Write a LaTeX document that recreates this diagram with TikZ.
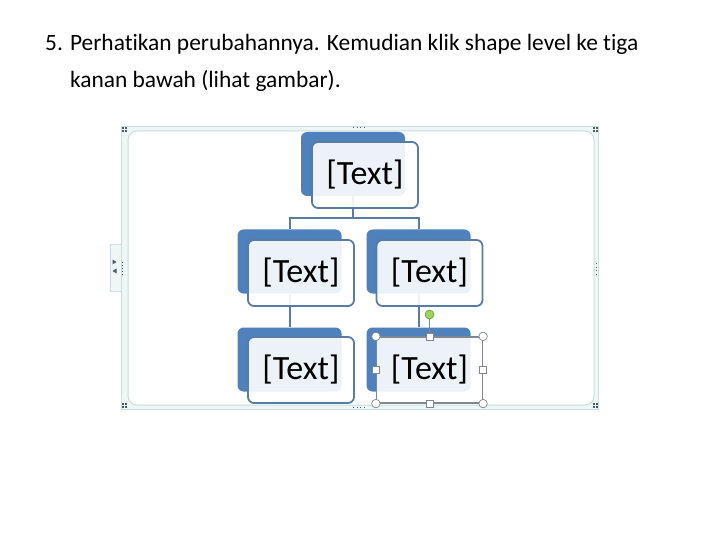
\documentclass[tikz,border=0pt]{standalone}
\usepackage{fontspec}
\setmainfont{Carlito}[Ligatures={NoCommon}, RawFeature={-liga}]
\definecolor{blueback}{HTML}{4F81BD}
\definecolor{frontline}{HTML}{5A7CA3}
\definecolor{connc}{HTML}{5A7CA3}
\definecolor{framec}{HTML}{C9DEDE}
\definecolor{framefill}{HTML}{EEF6F6}
\definecolor{dotc}{HTML}{4A5A66}
\definecolor{handc}{HTML}{7F8790}
\definecolor{rotfill}{HTML}{9BD55A}
\definecolor{rotline}{HTML}{5A9A2A}
\tikzset{
  backbox/.style={fill=blueback, rounded corners=6pt, minimum width=104pt, minimum height=64pt, inner sep=0pt},
  frontbox/.style={draw=frontline, line width=1.8pt, fill=white, fill opacity=0.9, text opacity=1, rounded corners=6pt, minimum width=106pt, minimum height=66pt, inner sep=0pt, font=\fontsize{34}{34}\selectfont},
  conn/.style={draw=connc, line width=2pt},
  hcirc/.style={circle, draw=handc, fill=white, line width=0.7pt, minimum size=8.5pt, inner sep=0pt},
  hsq/.style={rectangle, draw=handc, fill=white, line width=0.7pt, minimum size=7pt, inner sep=0pt},
  dotsq/.style={fill=dotc},
  title/.style={anchor=base west, inner sep=0pt, font=\fontsize{23.4}{28}\selectfont}
}
\begin{document}
\begin{tikzpicture}[x=1pt,y=-1pt]
\useasboundingbox (0,0) rectangle (720,540);
% title
\node[title] (l1) at (45,51) {5. Perhatikan perubahannya. Kemudian klik shape level ke tiga};
\node[title] (l2) at (70,88) {kanan bawah (lihat gambar).};
% frame
\draw[draw=framec, fill=framefill, line width=0.8pt] (121,126) rectangle (598,409);
\draw[draw=framec, fill=white, line width=1pt, rounded corners=9pt] (128,131) rectangle (594,405);
% left tab
\draw[draw=framec, fill=framefill, line width=0.8pt] (110,244) rectangle (121,291);
\fill[dotc] (112.5,259.5) -- (116.5,262) -- (112.5,264.5) -- cycle;
\fill[dotc] (116.5,268.5) -- (112.5,271) -- (116.5,273.5) -- cycle;
\foreach \yy in {262,265,268,271,274} \fill[dotsq] (121.5,\yy) rectangle ++(1.4,1.4);
% corner dots
\foreach \xx/\yy in {122/127,125/127,122/130,125/130,
                     593/127,596/127,593/130,596/130,
                     122/403,125/403,122/406,125/406,
                     593/403,596/403,593/406,596/406}
  \fill[dotsq] (\xx,\yy) rectangle ++(1.6,1.6);
\foreach \xx in {353,356.5,360,363.5} {
  \fill[dotsq] (\xx,127) rectangle ++(1.4,1.2);
  \fill[dotsq] (\xx,406.5) rectangle ++(1.4,1.2);
}
\foreach \yy in {263,266.5,270,273.5} \fill[dotsq] (596,\yy) rectangle ++(1.2,1.4);
% back boxes
\node[backbox] (tb) at (353,164) {};
\node[backbox] (ab) at (289.5,261.5) {};
\node[backbox] (bb) at (418.5,261.5) {};
\node[backbox] (cb) at (289.5,359.5) {};
\node[backbox] (db) at (418.5,359.5) {};
% connectors
\draw[conn] (tb.south) -- (tb.south |- 0,218.5) -| (ab.north);
\draw[conn] (tb.south |- 0,218.5) -| (bb.north);
\draw[conn] (ab.south) -- (cb.north);
\draw[conn] (bb.south) -- (db.north);
% front boxes
\node[frontbox] (t) at (365,175) {[Text]};
\node[frontbox] (a) at (301,273) {[Text]};
\node[frontbox] (b) at (429.5,273) {[Text]};
\node[frontbox] (c) at (301,370) {[Text]};
\node[frontbox, draw=handc, line width=1.2pt, rounded corners=0pt] (d) at (429.5,370) {[Text]};
% selection handles
\node[circle, draw=rotline, fill=rotfill, line width=0.6pt, minimum size=9pt, inner sep=0pt] (rot) at (429.5,314.5) {};
\draw[draw=handc, line width=0.9pt] (rot) -- (d.north);
\node[hcirc] (h1) at (d.north west) {};
\node[hcirc] (h2) at (d.north east) {};
\node[hcirc] (h3) at (d.south west) {};
\node[hcirc] (h4) at (d.south east) {};
\node[hsq] (h5) at (d.north) {};
\node[hsq] (h6) at (d.south) {};
\node[hsq] (h7) at (d.west) {};
\node[hsq] (h8) at (d.east) {};
\end{tikzpicture}
\end{document}
